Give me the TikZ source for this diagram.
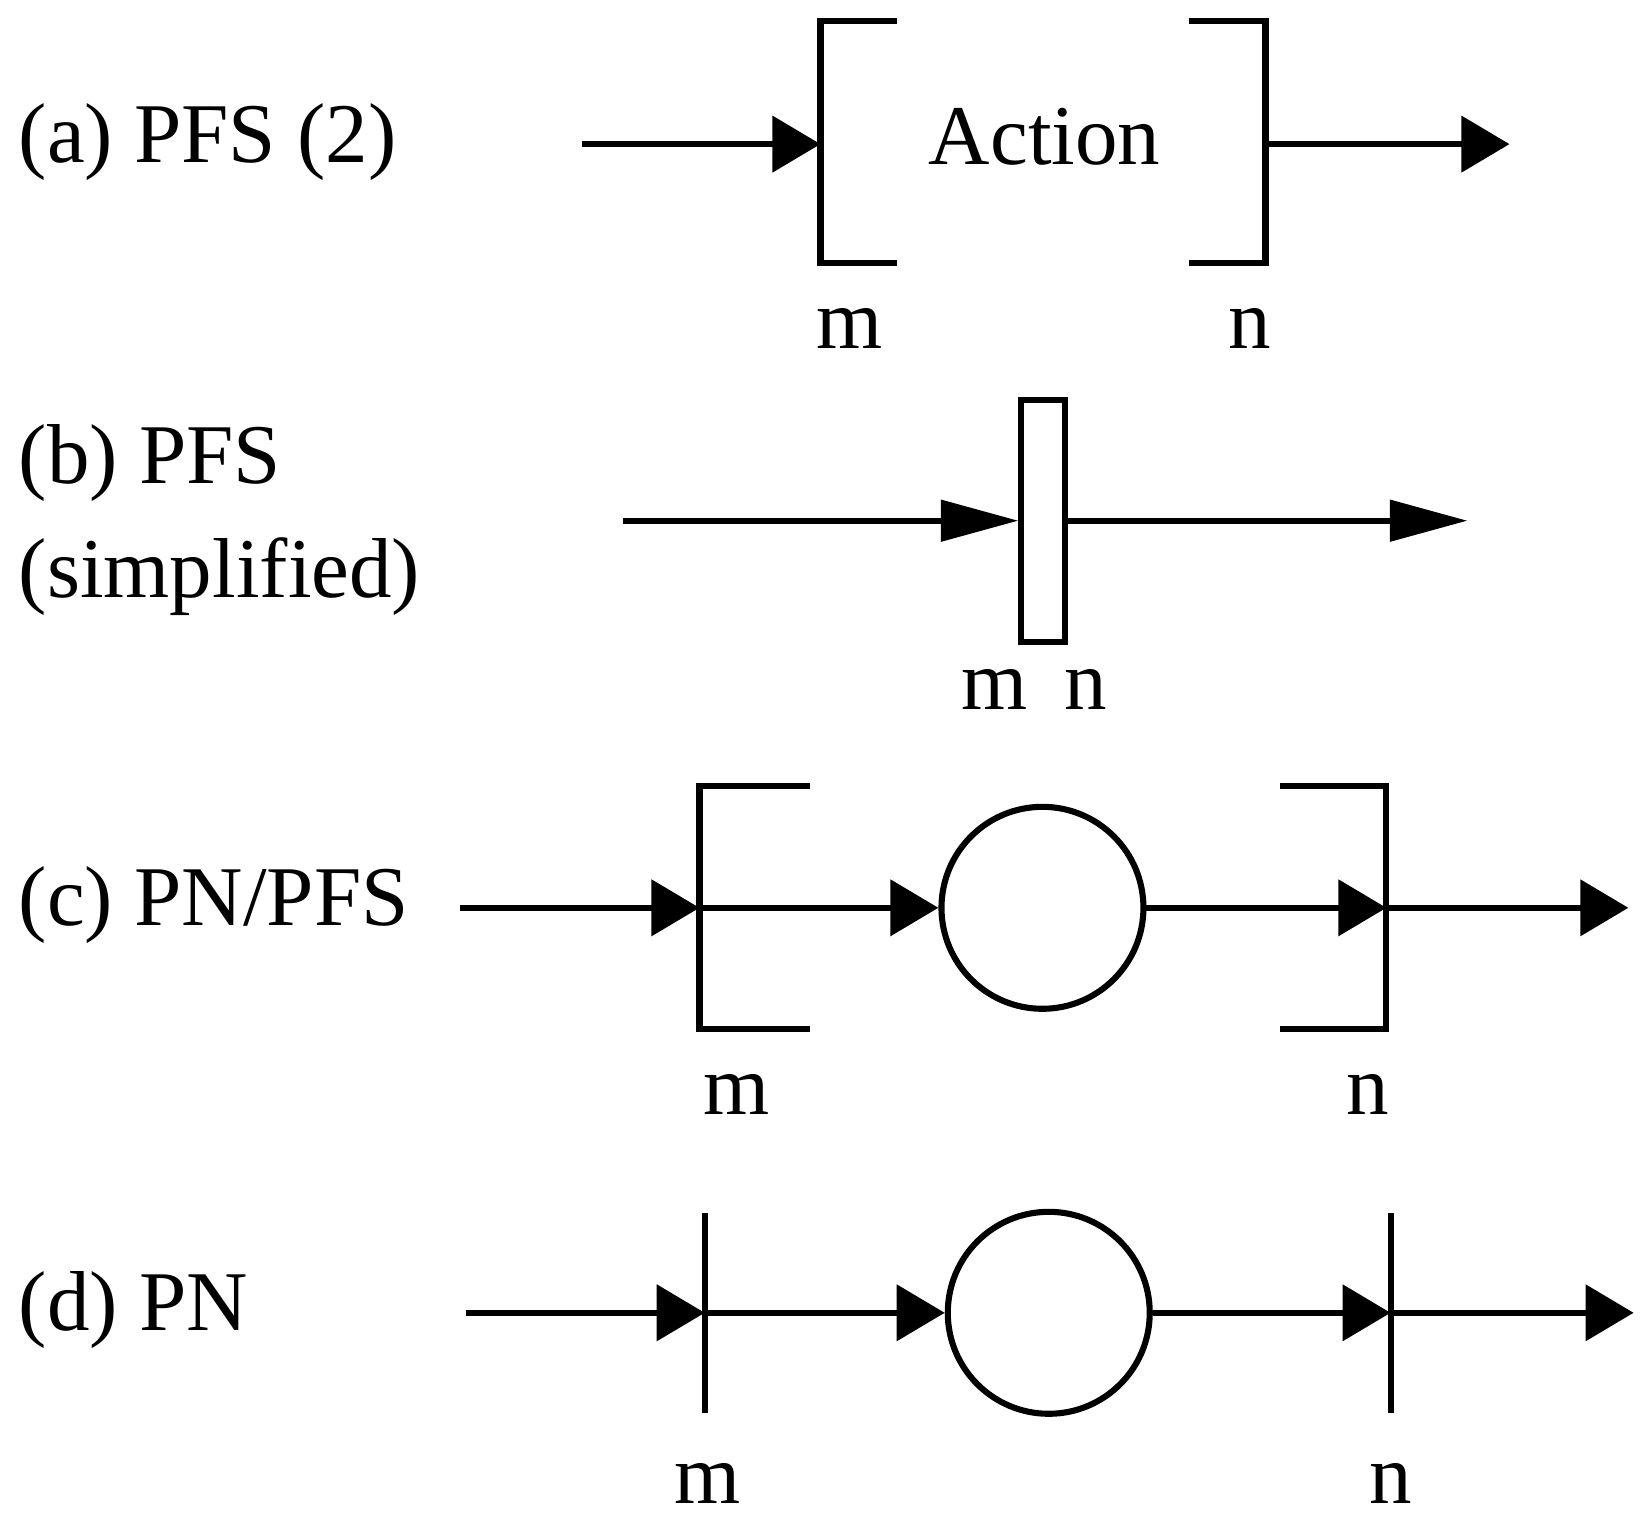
\documentclass[tikz,border=0pt]{standalone}
\usetikzlibrary{arrows.meta}
\usepackage{fontspec}
\setmainfont{Liberation Serif}
\begin{document}
\begin{tikzpicture}[x=0.02cm,y=-0.02cm,line width=3.3pt,
  lab/.style={font=\fontsize{46}{56}\selectfont,inner sep=0pt},
  tip/.style={-{Triangle[length=26pt,width=30pt]}},
  tipb/.style={-{Triangle[length=42pt,width=22pt]}},
  place/.style={circle,draw,minimum size=192*0.02cm,inner sep=0pt,line width=3.3pt}]
\useasboundingbox (0,0) rectangle (1560,1446);
% (a)
\node[lab,anchor=west] (la) at (15,135) {(a) PFS (2)};
\coordinate (a0) at (553,137); \coordinate (a1) at (780,137);
\coordinate (a2) at (1203,137); \coordinate (a3) at (1435,137);
\draw (853,20) -- (780,20) -- (780,250) -- (853,250);
\draw (1130,20) -- (1203,20) -- (1203,250) -- (1130,250);
\node[lab] (act) at (993,130) {Action};
\draw[tip] (a0) -- (a1);
\draw[tip] (a2) -- (a3);
\node[lab] (am) at (808,312) {m};
\node[lab] (an) at (1188,312) {n};
% (b)
\node[lab,anchor=west] (lb1) at (15,440) {(b) PFS};
\node[lab,anchor=west] (lb2) at (15,548) {(simplified)};
\node[draw,minimum width=41*0.02cm,minimum height=230*0.02cm,inner sep=0pt,line width=3.3pt] (bar) at (991.5,495) {};
\coordinate (b0) at (592,495); \coordinate (b3) at (1395,495);
\draw[tipb] (b0) -- (bar.west);
\draw[tipb] (bar.east) -- (b3);
\node[lab] (bm) at (945,655) {m};
\node[lab] (bn) at (1032,655) {n};
% (c)
\node[lab,anchor=west] (lc) at (15,860) {(c) PN/PFS};
\coordinate (c0) at (437,863); \coordinate (c1) at (665,863);
\coordinate (c2) at (1318,863); \coordinate (c3) at (1548,863);
\node[place] (pc) at (991,863) {};
\draw (770,747) -- (665,747) -- (665,978) -- (770,978);
\draw (1217,747) -- (1318,747) -- (1318,978) -- (1217,978);
\draw[tip] (c0) -- (c1);
\draw[tip] (c1) -- (pc.west);
\draw[tip] (pc.east) -- (c2);
\draw[tip] (c2) -- (c3);
\node[lab] (cm) at (700,1040) {m};
\node[lab] (cn) at (1300,1040) {n};
% (d)
\node[lab,anchor=west] (ld) at (15,1245) {(d) PN};
\coordinate (d0) at (443,1248); \coordinate (d1) at (670,1248);
\coordinate (d2) at (1322,1248); \coordinate (d3) at (1553,1248);
\node[place] (pd) at (997,1248) {};
\draw (670,1153) -- (670,1343);
\draw (1322,1153) -- (1322,1343);
\draw[tip] (d0) -- (d1);
\draw[tip] (d1) -- (pd.west);
\draw[tip] (pd.east) -- (d2);
\draw[tip] (d2) -- (d3);
\node[lab] (dm) at (673,1410) {m};
\node[lab] (dn) at (1322,1410) {n};
\end{tikzpicture}
\end{document}
